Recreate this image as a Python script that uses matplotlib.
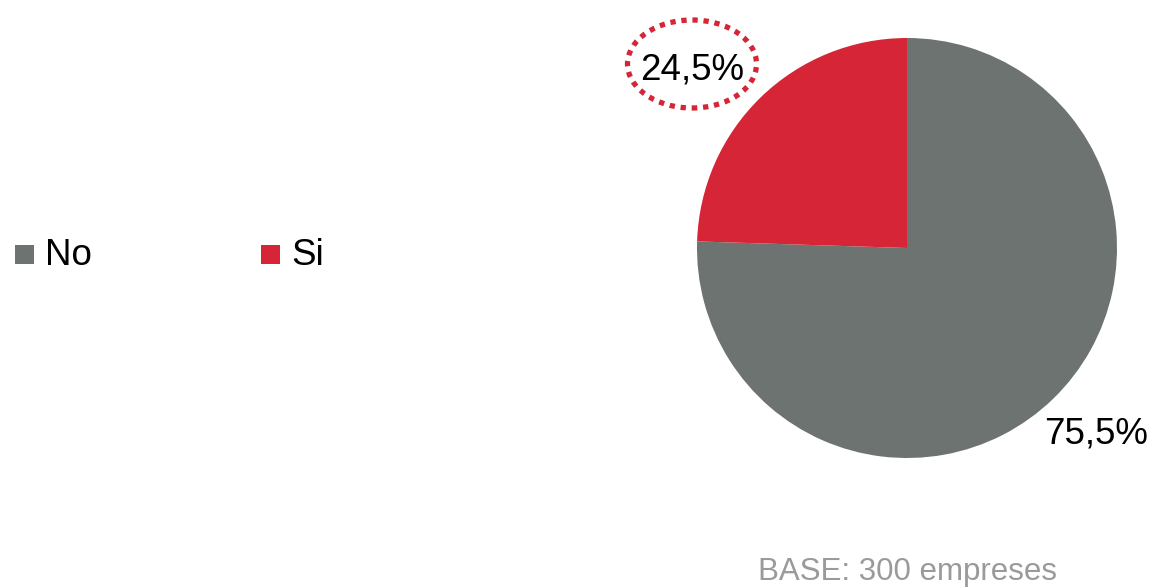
import matplotlib
matplotlib.use("Agg")
import matplotlib.pyplot as plt
import matplotlib.patches as patches

# ===== DATA =====
categories = ["No", "Si"]
shares = [75.5, 24.5]
share_labels = ["75,5%", "24,5%"]
base_note = "BASE: 300 empreses"

colors = ["#6d7370", "#d52536"]
W, H = 1151, 587

plt.rcParams['font.family'] = ['Liberation Sans', 'DejaVu Sans']

fig = plt.figure(figsize=(W / 100, H / 100), dpi=100)
ax = fig.add_axes([0, 0, 1, 1])

# pie, in pixel coords (y up)
cx, cy, rad = 907, H - 248, 210
ax.pie(shares, colors=colors, startangle=90, counterclock=False,
       center=(cx, cy), radius=rad, frame=False)
ax.set_xlim(0, W)
ax.set_ylim(0, H)
ax.set_aspect('equal')
ax.axis('off')

# slice labels
ax.text(1096, H - 443, share_labels[0], fontsize=26.5, ha='center', va='baseline')
ax.text(692, H - 80, share_labels[1], fontsize=26.5, ha='center', va='baseline')

# dotted highlight round the small share
ax.add_patch(patches.Ellipse((692, H - 64), 129, 88, fill=False,
                             edgecolor=colors[1], linewidth=3.8,
                             linestyle=(0, (1, 1.1))))

# legend
for x0, name, col in [(15, categories[0], colors[0]), (261, categories[1], colors[1])]:
    ax.add_patch(patches.Rectangle((x0, H - 264), 19, 19, facecolor=col, edgecolor='none'))
    ax.text(x0 + 30, H - 265, name, fontsize=26.5, ha='left', va='baseline')

ax.text(908, H - 580, base_note, fontsize=22.5, color='#9a9a9a', ha='center', va='baseline')

fig.savefig("out.png", dpi=100)
